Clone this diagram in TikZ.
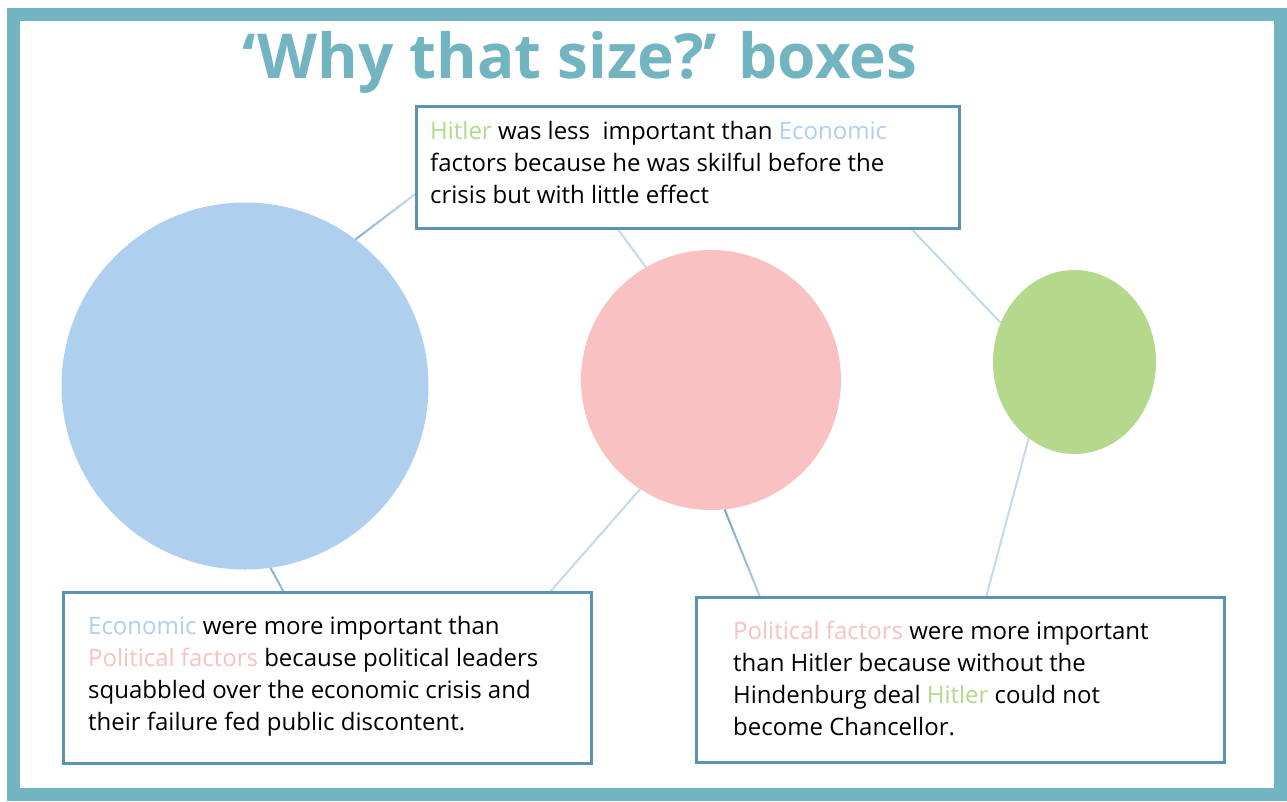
\documentclass[tikz,border=0pt]{standalone}
\usepackage{fontspec}
\setmainfont{Open Sans}
\usetikzlibrary{calc,shapes.geometric}
\definecolor{frame}{HTML}{72B5C1}
\definecolor{boxline}{HTML}{5B93B5}
\definecolor{econ}{HTML}{AECFEE}
\definecolor{pol}{HTML}{F9C1C1}
\definecolor{hit}{HTML}{B5D98C}
\definecolor{connlight}{HTML}{C2DAEC}
\definecolor{conndark}{HTML}{6E9EC2}
\tikzset{
  x=1pt,y=-1pt,
  textbox/.style={draw=boxline,line width=2.3pt,fill=white,minimum width=#1,inner sep=0pt,anchor=north west},
  bodytext/.style={anchor=north west,align=left,inner sep=0pt,font=\fontsize{24}{32}\selectfont,text=black},
  conn/.style={line width=2pt,connlight},
}
\newcommand{\gradline}[4]{% from, to, start dark %, end dark %
  \foreach \i in {0,...,11}{
    \pgfmathsetmacro{\ta}{\i/12}
    \pgfmathsetmacro{\tb}{(\i+1)/12}
    \pgfmathsetmacro{\mix}{#3+(#4-#3)*(\i+0.5)/12}
    \draw[line width=2pt,conndark!\mix!connlight] ($(#1)!\ta!(#2)$) -- ($(#1)!\tb!(#2)$);
  }
}
\begin{document}
\begin{tikzpicture}
\useasboundingbox (0,0) rectangle (1287,801);
\fill[white] (0,0) rectangle (1287,801);
\draw[frame,line width=13pt] (13,14) rectangle (1280,794);
\node[anchor=center,text=frame,font=\fontsize{62}{62}\selectfont\bfseries] (title) at (580,62) {‘Why that size?’ boxes};

% circles
\node[circle,fill=econ,minimum size=367pt,inner sep=0pt] (econc) at (245,386) {};
\node[circle,fill=pol,minimum size=260pt,inner sep=0pt] (polc) at (711,380) {};
\node[ellipse,fill=hit,minimum width=163pt,minimum height=184pt,inner sep=0pt] (hitc) at (1074.5,362) {};

% boxes
\node[textbox=542pt,minimum height=121pt] (topbox) at (416,106) {};
\node[textbox=527pt,minimum height=170pt] (blbox) at (63,592) {};
\node[textbox=527pt,minimum height=164pt] (brbox) at (696,597) {};

% connector end points on the boxes
\coordinate (t1) at ($(topbox.north west)!0.71!(topbox.south west)$);
\coordinate (t2) at ($(topbox.south west)!0.371!(topbox.south east)$);
\coordinate (t3) at ($(topbox.south west)!0.911!(topbox.south east)$);
\coordinate (b4) at ($(blbox.north west)!0.417!(blbox.north east)$);
\coordinate (b5) at ($(blbox.north west)!0.92!(blbox.north east)$);
\coordinate (b6) at ($(brbox.north west)!0.121!(brbox.north east)$);
\coordinate (b7) at ($(brbox.north west)!0.548!(brbox.north east)$);
\coordinate (e1) at (econc.53);
\coordinate (e4) at (econc.-82);
\coordinate (p6) at (polc.-84);

% connectors
\gradline{e1}{t1}{70}{0}
\draw[conn] (t2) -- (polc.120);
\draw[conn] (t3) -- (hitc.152);
\gradline{e4}{b4}{70}{60}
\draw[conn] (polc.237) -- (b5);
\gradline{p6}{b6}{90}{20}
\draw[conn] (hitc.-121) -- (b7);

% redraw box borders over connector ends
\draw[boxline,line width=2.3pt] (topbox.north west) rectangle (topbox.south east);
\draw[boxline,line width=2.3pt] (blbox.north west) rectangle (blbox.south east);
\draw[boxline,line width=2.3pt] (brbox.north west) rectangle (brbox.south east);

% texts
\node[bodytext] (toptext) at (430,121) {\textcolor{hit}{Hitler} was less\ \ important than \textcolor{econ}{Economic}\\factors because he was skilful before the\\crisis but with little effect};
\node[bodytext] (bltext) at (88,616) {\textcolor{econ}{Economic} were more important than\\\textcolor{pol}{Political factors} because political leaders\\squabbled over the economic crisis and\\their failure fed public discontent.};
\node[bodytext] (brtext) at (733,621) {\textcolor{pol}{Political factors} were more important\\than Hitler because without the\\Hindenburg deal \textcolor{hit}{Hitler} could not\\become Chancellor.};
\end{tikzpicture}
\end{document}
